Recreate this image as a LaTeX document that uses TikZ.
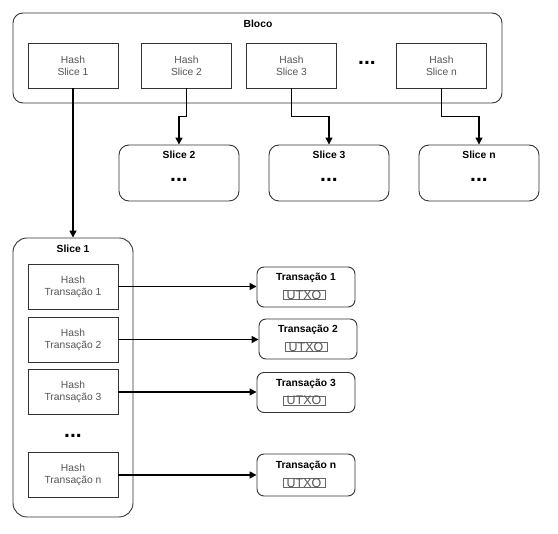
\documentclass[tikz,border=0pt]{standalone}
\usepackage{fontspec}
\setmainfont{Liberation Sans}
\usetikzlibrary{positioning,calc,arrows.meta}
\definecolor{blocoline}{RGB}{51, 51, 51}
\definecolor{hashtext}{RGB}{85, 85, 85}
\definecolor{utxoline}{RGB}{102, 102, 102}

\begin{document}
\begin{tikzpicture}[x=1pt, y=-1pt,
    container/.style={draw=blocoline, rounded corners=10pt, line width=0.9pt, inner sep=0pt},
    hashbox/.style={draw=blocoline, line width=0.8pt, minimum width=90pt, minimum height=45pt, align=center, text=hashtext, font=\fontsize{10.3}{12}\selectfont},
    slicebox/.style={container, minimum width=120pt, minimum height=56pt},
    txbox/.style={container, rounded corners=7pt, minimum width=98pt, minimum height=40pt},
    title/.style={font=\fontsize{10.3}{12}\selectfont\bfseries, inner sep=0pt},
    dots/.style={font=\fontsize{21}{21}\selectfont\bfseries, inner sep=0pt},
    utxo/.style={draw=utxoline, line width=0.7pt, minimum width=42pt, minimum height=9pt, inner sep=0pt, text=hashtext, font=\fontsize{12.5}{12}\selectfont},
    link/.style={line width=1.5pt, -{Triangle[length=7pt, width=7pt]}}
]
    \useasboundingbox (0,0) rectangle (558,534);

    % Bloco with its slice hashes
    \node[container, minimum width=489pt, minimum height=90pt] (bloco) at (257.5,58) {};
    \node[title] (blocolabel) at (258,24) {Bloco};
    \node[hashbox] (hs1) at (73,65.5) {Hash\\Slice 1};
    \node[hashbox] (hs2) at (186.5,65.5) {Hash\\Slice 2};
    \node[hashbox] (hs3) at (291.5,65.5) {Hash\\Slice 3};
    \node[dots] (hsdots) at (367,63) {...};
    \node[hashbox] (hsn) at (441.5,65.5) {Hash\\Slice n};

    % Slices
    \node[slicebox] (s2) at (179,173) {};
    \node[title] (s2label) at (179,155) {Slice 2};
    \node[dots] (s2dots) at (179,180) {...};
    \node[slicebox] (s3) at (329,173) {};
    \node[title] (s3label) at (329,155) {Slice 3};
    \node[dots] (s3dots) at (329,180) {...};
    \node[slicebox] (sn) at (479,173) {};
    \node[title] (snlabel) at (479,155) {Slice n};
    \node[dots] (sndots) at (479,180) {...};

    % Slice 1 with its transaction hashes
    \node[container, minimum width=120pt, minimum height=279pt, rounded corners=14pt] (s1) at (73,377.5) {};
    \node[title] (s1label) at (73,249) {Slice 1};
    \node[hashbox] (ht1) at (73,286.5) {Hash\\Transação 1};
    \node[hashbox] (ht2) at (73,339.5) {Hash\\Transação 2};
    \node[hashbox] (ht3) at (73,392) {Hash\\Transação 3};
    \node[dots] (htdots) at (73,436) {...};
    \node[hashbox] (htn) at (73,475) {Hash\\Transação n};

    % Transactions
    \node[txbox] (t1) at (306,287) {};
    \node[title] (t1label) at (306,278) {Transação 1};
    \node[utxo] (u1) at (304,295) {UTXO};
    \node[txbox] (t2) at (308,339) {};
    \node[title] (t2label) at (308,330) {Transação 2};
    \node[utxo] (u2) at (306,347) {UTXO};
    \node[txbox] (t3) at (306,392.5) {};
    \node[title] (t3label) at (306,383.5) {Transação 3};
    \node[utxo] (u3) at (304,400.5) {UTXO};
    \node[txbox, minimum height=42pt] (tn) at (306,475) {};
    \node[title] (tnlabel) at (306,466) {Transação n};
    \node[utxo] (un) at (304,483) {UTXO};

    % Connectors
    \draw[link] (hs1.south) -- (s1.north);
    \draw[link] (hs2.south) -- ++(0,28) -| (s2.north);
    \draw[link] (hs3.south) -- ++(0,28) -| (s3.north);
    \draw[link] (hsn.south) -- ++(0,28) -| (sn.north);
    \draw[link] (ht1.east) -- (ht1.east -| t1.west);
    \draw[link] (ht2.east) -- (ht2.east -| t2.west);
    \draw[link] (ht3.east) -- (ht3.east -| t3.west);
    \draw[link] (htn.east) -- (htn.east -| tn.west);
\end{tikzpicture}
\end{document}
